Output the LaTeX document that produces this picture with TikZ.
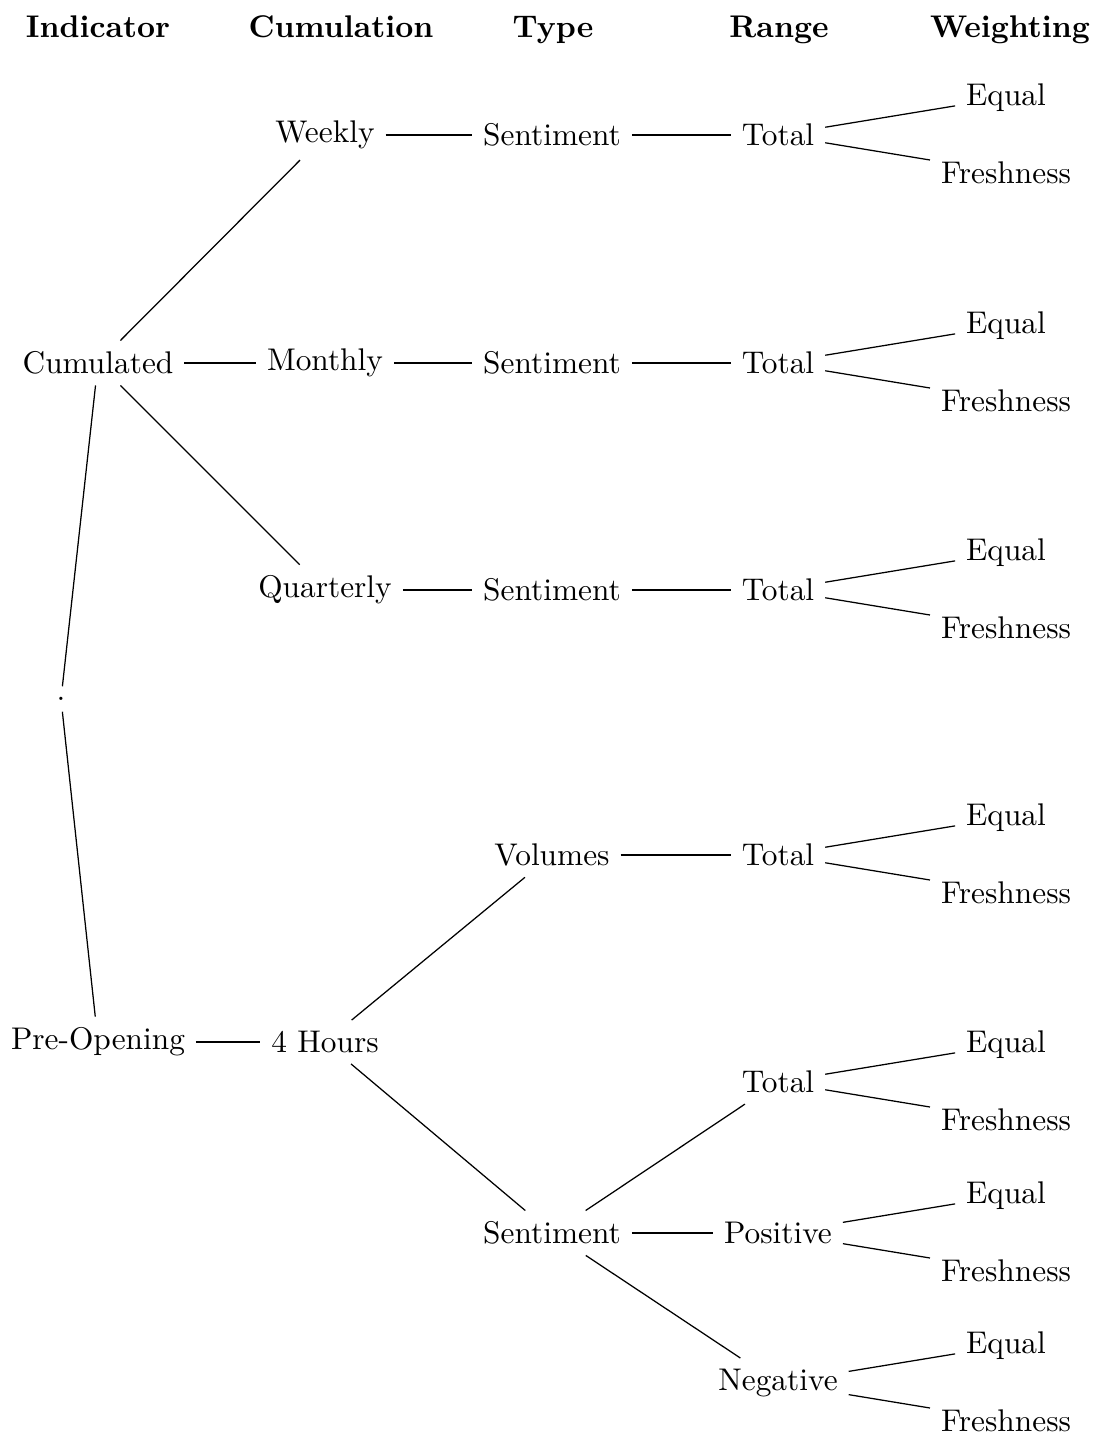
\documentclass[tikz,border=0pt]{standalone}
\usepackage{tikz}

\begin{document}
\begin{tikzpicture}[x=0.319pt, y=-0.319pt,
    head/.style={font=\bfseries, anchor=base},
    leaf/.style={inner sep=3.33pt}]
  \useasboundingbox (0,0) rectangle (1099,1438);
  % Column headers
  \node[head] (hind) at (98,37) {Indicator};
  \node[head] (hcum) at (341,37) {Cumulation};
  \node[head] (htyp) at (553,37) {Type};
  \node[head] (hran) at (779,37) {Range};
  \node[head] (hwei) at (1010,37) {Weighting};
  % Root
  \node[leaf] (root) at (61,699) {.};
  % Cumulated branch
  \node[leaf] (cum) at (98,363) {Cumulated};
  \node[leaf] (week) at (325,135) {Weekly};
  \node[leaf] (month) at (325,363) {Monthly};
  \node[leaf] (quart) at (325,590) {Quarterly};
  \node[leaf] (s1) at (552,135) {Sentiment};
  \node[leaf] (s2) at (552,363) {Sentiment};
  \node[leaf] (s3) at (552,590) {Sentiment};
  \node[leaf] (r1) at (778,135) {Total};
  \node[leaf] (r2) at (778,363) {Total};
  \node[leaf] (r3) at (778,590) {Total};
  \draw (root) -- (cum);
  \draw (cum) -- (week);
  \draw (cum) -- (month);
  \draw (cum) -- (quart);
  \draw (week) -- (s1) -- (r1);
  \draw (month) -- (s2) -- (r2);
  \draw (quart) -- (s3) -- (r3);
  % Pre-Opening branch
  \node[leaf] (pre) at (98,1042) {Pre-Opening};
  \node[leaf] (hours) at (325,1042) {4 Hours};
  \node[leaf] (vol) at (552,855) {Volumes};
  \node[leaf] (s4) at (552,1233) {Sentiment};
  \node[leaf] (r4) at (778,855) {Total};
  \node[leaf] (r5) at (778,1082) {Total};
  \node[leaf] (r6) at (778,1233) {Positive};
  \node[leaf] (r7) at (778,1383) {Negative};
  \draw (root) -- (pre);
  \draw (pre) -- (hours);
  \draw (hours) -- (vol);
  \draw (hours) -- (s4);
  \draw (vol) -- (r4);
  \draw (s4) -- (r5);
  \draw (s4) -- (r6);
  \draw (s4) -- (r7);
  % Weighting leaves
  \foreach \r/\y in {r1/135,r2/363,r3/590,r4/855,r5/1082,r6/1233,r7/1383} {
    \node[leaf] (\r-eq) at (1006,\y-37.5) {Equal};
    \node[leaf] (\r-fr) at (1006,\y+37.5) {Freshness};
    \draw (\r) -- (\r-eq);
    \draw (\r) -- (\r-fr);
  }
\end{tikzpicture}
\end{document}
